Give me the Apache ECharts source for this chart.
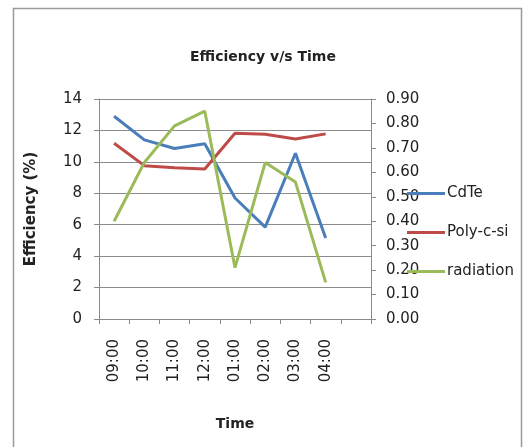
<!DOCTYPE html>
<html>
<head>
<meta charset="utf-8">
<script src="https://cdn.jsdelivr.net/npm/echarts@6/dist/echarts.min.js"></script>
<style>
  html, body { margin: 0; padding: 0; background: #fff; }
  #chart { width: 532px; height: 447px; }
</style>
</head>
<body>
<div id="chart"></div>
<script>
// Time slots (the last slot is an empty trailing category)
const times = ['09:00', '10:00', '11:00', '12:00', '01:00', '02:00', '03:00', '04:00', ''];
// Module efficiency, %
const cdte = [12.9, 11.4, 10.85, 11.15, 7.7, 5.85, 10.55, 5.15];
const polySi = [11.18, 9.76, 9.63, 9.55, 11.82, 11.75, 11.46, 11.78];
// Solar radiation (secondary axis)
const radiation = [0.40, 0.64, 0.79, 0.85, 0.21, 0.64, 0.56, 0.15];
// Axis ticks
const effTicks = { min: 0, max: 14, step: 2 };
const radTicks = { min: 0, max: 0.9, step: 0.1 };

const font = 'DejaVu Sans';
const axisGray = '#8a8a8a';
const textColor = '#222';

const chart = echarts.init(document.getElementById('chart'), null, { renderer: 'canvas' });
chart.setOption({
  backgroundColor: '#fff',
  animation: false,
  title: {
    text: 'Efficiency v/s Time',
    left: 258, top: 45, textAlign: 'center',
    textStyle: { fontFamily: font, fontSize: 14, fontWeight: 'bold', color: textColor }
  },
  graphic: [{
    type: 'rect', silent: true, z: -1,
    shape: { x: 13.5, y: 8.5, width: 508, height: 460 },
    style: { fill: 'none', stroke: '#9a9a9a', lineWidth: 1.5 }
  }],
  legend: {
    orient: 'vertical', left: 402, top: 181,
    itemWidth: 38, itemHeight: 3, itemGap: 24,
    icon: 'rect',
    textStyle: { fontFamily: font, fontSize: 15, color: textColor, padding: [0, 0, 0, -3] },
    data: ['CdTe', 'Poly-c-si', 'radiation']
  },
  grid: { left: 99, right: 161, top: 99, bottom: 128 },
  xAxis: {
    type: 'category', data: times, boundaryGap: true,
    name: 'Time', nameLocation: 'middle', nameGap: 98,
    nameTextStyle: { fontFamily: font, fontSize: 14, fontWeight: 'bold', color: textColor },
    axisLine: { lineStyle: { color: axisGray } },
    axisTick: { show: true, alignWithLabel: false, length: 5, lineStyle: { color: axisGray } },
    axisLabel: { rotate: 90, margin: 20, fontFamily: font, fontSize: 15, color: textColor, interval: 0 }
  },
  yAxis: [{
    type: 'value', min: effTicks.min, max: effTicks.max, interval: effTicks.step,
    name: 'Efficiency (%)', nameLocation: 'middle', nameGap: 60,
    nameTextStyle: { fontFamily: font, fontSize: 15, fontWeight: 'bold', color: textColor },
    axisLine: { show: true, lineStyle: { color: axisGray } },
    axisTick: { show: true, length: 5, lineStyle: { color: axisGray } },
    axisLabel: { margin: 17, fontFamily: font, fontSize: 15, color: textColor },
    splitLine: { show: true, lineStyle: { color: '#8c8c8c', width: 1 } }
  }, {
    type: 'value', min: radTicks.min, max: radTicks.max, interval: radTicks.step,
    position: 'right',
    axisLine: { show: true, lineStyle: { color: axisGray } },
    axisTick: { show: true, length: 5, lineStyle: { color: axisGray } },
    axisLabel: { margin: 15, fontFamily: font, fontSize: 15, color: textColor,
      formatter: v => v.toFixed(2) },
    splitLine: { show: false }
  }],
  series: [{
    name: 'CdTe', type: 'line', yAxisIndex: 0, data: cdte,
    symbol: 'none', lineStyle: { width: 3, color: '#4A7EBB' }, itemStyle: { color: '#4A7EBB' }
  }, {
    name: 'Poly-c-si', type: 'line', yAxisIndex: 0, data: polySi,
    symbol: 'none', lineStyle: { width: 3, color: '#BE4B48' }, itemStyle: { color: '#BE4B48' }
  }, {
    name: 'radiation', type: 'line', yAxisIndex: 1, data: radiation,
    symbol: 'none', lineStyle: { width: 3, color: '#9BBB59' }, itemStyle: { color: '#9BBB59' }
  }]
});
</script>
</body>
</html>
